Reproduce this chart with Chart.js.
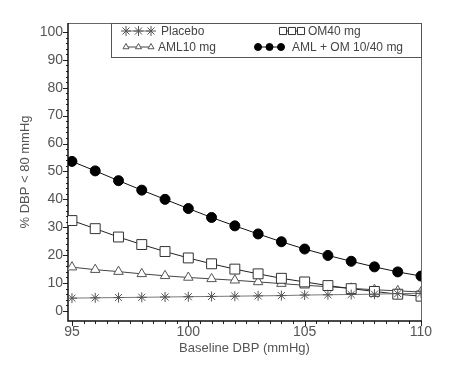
<!DOCTYPE html>
<html>
<head>
<meta charset="utf-8">
<script src="https://cdn.jsdelivr.net/npm/chart.js@4/dist/chart.umd.min.js"></script>
<style>
  body { margin: 0; background: #fff; }
  #wrap { width: 456px; height: 366px; }
</style>
</head>
<body>
<div id="wrap"><canvas id="myChart" width="456" height="366"></canvas></div>
<script>
// values
const baseline = [95, 96, 97, 98, 99, 100, 101, 102, 103, 104, 105, 106, 107, 108, 109, 110];
const placebo = [4.6, 4.7, 4.8, 4.9, 5.0, 5.1, 5.2, 5.3, 5.4, 5.5, 5.7, 5.8, 5.9, 6.0, 6.2, 6.3];
const aml10 = [15.7, 14.8, 14.1, 13.3, 12.6, 12.0, 11.5, 11.0, 10.4, 9.8, 9.2, 8.7, 8.1, 7.6, 7.2, 6.8];
const om40 = [32.4, 29.5, 26.5, 23.8, 21.3, 19.0, 16.9, 15.0, 13.3, 11.7, 10.4, 9.1, 8.0, 7.0, 6.0, 5.3];
const amlOm = [53.6, 50.2, 46.7, 43.3, 40.0, 36.7, 33.5, 30.5, 27.6, 24.8, 22.2, 19.9, 17.8, 15.8, 14.0, 12.5];

const xTicks = [95, 100, 105, 110];
const yTicks = [0, 10, 20, 30, 40, 50, 60, 70, 80, 90, 100];
const seriesNames = ['Placebo', 'OM40 mg', 'AML10 mg', 'AML + OM 10/40 mg'];

const FONT = 'Arial, "Liberation Sans", sans-serif';

const toPoints = (ys) => baseline.map((x, i) => ({ x: x, y: ys[i] }));

// frame, minor/major tick marks and the boxed legend
const decorations = {
  id: 'decorations',
  beforeDatasetsDraw(chart) {
    const { ctx, chartArea: a, scales: { x, y } } = chart;
    ctx.save();
    ctx.strokeStyle = '#222';
    ctx.lineWidth = 1;
    ctx.beginPath();
    for (let v = 95; v <= 110.001; v += 0.5) {
      const px = Math.round(x.getPixelForValue(v)) + 0.5;
      const len = (v % 5 === 0) ? 5 : 3;
      ctx.moveTo(px, a.bottom);
      ctx.lineTo(px, a.bottom + len);
    }
    for (let v = 0; v <= 100; v += 2) {
      const py = Math.round(y.getPixelForValue(v)) + 0.5;
      const len = (v % 10 === 0) ? 5 : 2;
      ctx.moveTo(a.left, py);
      ctx.lineTo(a.left - len, py);
    }
    ctx.stroke();

    // light top / right border
    ctx.strokeStyle = '#666';
    ctx.beginPath();
    ctx.moveTo(a.left, a.top + 0.5);
    ctx.lineTo(a.right + 0.5, a.top + 0.5);
    ctx.lineTo(a.right + 0.5, a.bottom);
    ctx.stroke();
    // dark left / bottom axes
    ctx.strokeStyle = '#111';
    ctx.lineWidth = 1.5;
    ctx.beginPath();
    ctx.moveTo(a.left, a.top);
    ctx.lineTo(a.left, a.bottom);
    ctx.lineTo(a.right + 1, a.bottom);
    ctx.stroke();
    ctx.restore();
  },
  afterDraw(chart) {
    const { ctx, chartArea: a } = chart;
    const ds = chart.data.datasets;
    const box = { left: 111, top: a.top, right: a.right, bottom: 57 };
    ctx.save();
    ctx.fillStyle = '#fff';
    ctx.fillRect(box.left, box.top, box.right - box.left, box.bottom - box.top);
    ctx.strokeStyle = '#555';
    ctx.lineWidth = 1;
    ctx.strokeRect(box.left + 0.5, box.top + 0.5, box.right - box.left, box.bottom - box.top);

    const slots = [
      { idx: 0, x: 126, y: 31, tx: 161 },
      { idx: 1, x: 283, y: 31, tx: 308 },
      { idx: 2, x: 126, y: 47, tx: 158 },
      { idx: 3, x: 258, y: 47, tx: 292 }
    ];
    ctx.font = '12px ' + FONT;
    ctx.textBaseline = 'middle';
    slots.forEach(s => {
      const d = ds[s.idx];
      const gap = s.idx === 1 ? 9 : (s.idx === 3 ? 11.5 : 12.5);
      ctx.strokeStyle = d.borderColor;
      ctx.lineWidth = 1;
      ctx.beginPath();
      ctx.moveTo(s.x, s.y);
      ctx.lineTo(s.x + 2 * gap, s.y);
      ctx.stroke();
      for (let k = 0; k < 3; k++) {
        ctx.strokeStyle = d.pointBorderColor;
        ctx.fillStyle = d.pointBackgroundColor;
        Chart.helpers.drawPoint(ctx, {
          pointStyle: d.pointStyle,
          radius: d.legendRadius,
          rotation: 0,
          borderWidth: 1
        }, s.x + k * gap, s.y);
      }
      ctx.fillStyle = '#444';
      ctx.fillText(seriesNames[s.idx], s.tx, s.y + 0.5);
    });
    ctx.restore();
  }
};

const ctx = document.getElementById('myChart').getContext('2d');
const myChart = new Chart(ctx, {
  type: 'line',
  data: {
    datasets: [
      {
        label: seriesNames[0],
        data: toPoints(placebo),
        borderColor: '#777',
        borderWidth: 1,
        pointStyle: 'star',
        pointRadius: 5,
        pointBorderColor: '#555',
        pointBackgroundColor: '#555',
        pointBorderWidth: 1,
        legendRadius: 5
      },
      {
        label: seriesNames[1],
        data: toPoints(om40),
        borderColor: '#222',
        borderWidth: 1,
        pointStyle: 'rect',
        pointRadius: 7,
        pointBorderColor: '#333',
        pointBackgroundColor: '#fff',
        pointBorderWidth: 1,
        legendRadius: 5
      },
      {
        label: seriesNames[2],
        data: toPoints(aml10),
        borderColor: '#444',
        borderWidth: 1,
        pointStyle: 'triangle',
        pointRadius: 5.5,
        pointBorderColor: '#555',
        pointBackgroundColor: '#fff',
        pointBorderWidth: 1,
        legendRadius: 3.5
      },
      {
        label: seriesNames[3],
        data: toPoints(amlOm),
        borderColor: '#111',
        borderWidth: 1,
        pointStyle: 'circle',
        pointRadius: 5,
        pointBorderColor: '#000',
        pointBackgroundColor: '#000',
        pointBorderWidth: 1,
        legendRadius: 3.5
      }
    ]
  },
  options: {
    responsive: false,
    animation: false,
    devicePixelRatio: 1,
    layout: { padding: { left: 8, right: 35, top: 23, bottom: 8 } },
    plugins: {
      legend: { display: false },
      tooltip: { enabled: false }
    },
    scales: {
      x: {
        type: 'linear',
        min: 94.83,
        max: 110,
        afterFit: (scale) => { scale.height = 37; },
        afterBuildTicks: (scale) => { scale.ticks = xTicks.map(v => ({ value: v })); },
        grid: { display: false, drawTicks: false },
        border: { display: false },
        ticks: { padding: 3, color: '#555', font: { family: FONT, size: 14 }, maxRotation: 0 },
        title: {
          display: true,
          text: 'Baseline DBP (mmHg)',
          color: '#555',
          font: { family: FONT, size: 13 },
          padding: { top: 0, bottom: 2 }
        }
      },
      y: {
        type: 'linear',
        min: -3.6,
        max: 103.2,
        afterFit: (scale) => { scale.width = 60; },
        afterBuildTicks: (scale) => { scale.ticks = yTicks.map(v => ({ value: v })); },
        grid: { display: false, drawTicks: false },
        border: { display: false },
        ticks: { padding: 5, color: '#555', font: { family: FONT, size: 14 } },
        title: {
          display: true,
          text: '% DBP < 80 mmHg',
          color: '#555',
          font: { family: FONT, size: 13 },
          padding: { top: 10, bottom: 0 }
        }
      }
    }
  },
  plugins: [decorations]
});
</script>
</body>
</html>
